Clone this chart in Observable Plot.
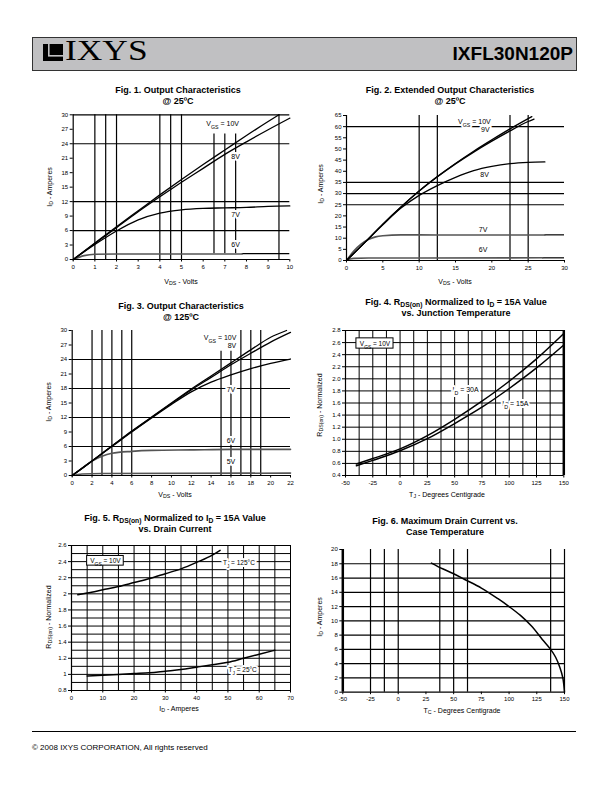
<!DOCTYPE html>
<html><head><meta charset="utf-8">
<script src="https://cdn.jsdelivr.net/npm/d3@7"></script>
<script src="https://cdn.jsdelivr.net/npm/@observablehq/plot@0.6"></script>
<style>
body{margin:0;background:#fff;}
#page{position:relative;width:612px;height:792px;overflow:hidden;font-family:"Liberation Sans",Arial,Helvetica,sans-serif;color:#000;}
.title{position:absolute;font-weight:bold;font-size:9px;text-align:center;line-height:11px;white-space:nowrap;transform:translateX(-50%);}
.xlab{position:absolute;font-size:7px;white-space:nowrap;transform:translate(-50%,-50%);}
.ylab{position:absolute;font-size:7px;white-space:nowrap;transform:translate(-50%,-50%) rotate(-90deg);}
sub{font-size:0.75em;vertical-align:-0.3em;line-height:0;}
svg{position:absolute;}
</style></head>
<body><div id="page"></div>
<script>
// ---------------- DATA ----------------
// Fig. 1  Output characteristics @25C  [VDS, ID]
const fig1_10V = [[0,0],[1,3.4],[2,6.8],[3,10.1],[4,13.4],[5,16.6],[6,19.7],[7,22.7],[8,25.7],[9,28.6],[9.5,30]];
const fig1_8V  = [[0,0],[1,3.3],[2,6.6],[3,9.9],[4,13.0],[5,16.0],[6,18.9],[7,21.8],[8,24.4],[9,26.9],[10,29.3]];
const fig1_7V  = [[0,0],[1,3.1],[2,5.9],[3,8.2],[4,9.6],[5,10.3],[6,10.6],[7,10.7],[8,10.8],[9,11.0],[10,11.1]];
const fig1_6V  = [[0,0],[0.5,0.8],[1,1.1],[2,1.15],[4,1.15],[7.8,1.15]];
const fig1GridX = [1,1.5,2,4,4.5,5,9.5];
const fig1GridXShort = [6.5,7,7.5];
const fig1GridY = [6,12,24,30];
const fig1Segments = [{x1:7.8,x2:10,y:1.2}];
const fig1Labels = [{x:6.9,y:28.1,t:"V_{GS} = 10V"},{x:7.5,y:21.4,t:"8V"},{x:7.5,y:9.2,t:"7V"},{x:7.5,y:3.1,t:"6V"}];

// Fig. 2  Extended output characteristics @25C
const fig2_10V = [[0,0],[2.5,8],[5,16.3],[7.5,24],[10,31.2],[12.5,37.6],[15,43.5],[17.5,49],[20,54.1],[22.5,59],[25,63.6],[25.5,64.5]];
const fig2_9V  = [[0,0],[2.5,8],[5,16.3],[7.5,24],[10,31.1],[12.5,37.5],[15,43.3],[17.5,48.6],[20,53.5],[22.5,58.1],[25,62.3],[25.8,63.4]];
const fig2_8V  = [[0,0],[2.5,8],[5,16],[7.5,23.5],[10,29.2],[12.5,33.6],[15,37.3],[17.5,40.3],[20,42.2],[22.5,43.4],[25,44],[27.3,44.2]];
const fig2_7V  = [[0,0],[1,4.2],[2,7.3],[3,9.4],[4,10.6],[5,11.1],[7.5,11.5],[10,11.5],[15,11.4],[20,11.4],[25,11.4],[27.3,11.4]];
const fig2_6V  = [[0,0],[0.5,0.7],[1,0.95],[3,1.1],[10,1.15],[27,1.2]];
const fig2GridX = [10,12.5,22.5,25];
const fig2GridY = [25,30,35,60];
const fig2Segments = [{x1:27.3,x2:30,y:11.5},{x1:27,x2:30,y:1.2}];
const fig2Labels = [{x:17.6,y:62.3,t:"V_{GS} = 10V"},{x:19.1,y:58.6,t:"9V"},{x:19,y:38.4,t:"8V"},{x:18.8,y:13.6,t:"7V"},{x:18.8,y:4.9,t:"6V"}];

// Fig. 3  Output characteristics @125C
const fig3_10V = [[0,0],[2,3],[4,6.1],[6,9.2],[8,12.1],[10,15],[12,17.9],[14,20.6],[16,23.3],[18,26],[20,28.6],[21.6,30]];
const fig3_8V  = [[0,0],[2,3],[4,6.1],[6,9.1],[8,12],[10,14.9],[12,17.7],[14,20.3],[16,22.9],[18,25.3],[20,27.6],[22,29.6]];
const fig3_7V  = [[0,0],[2,3],[4,6],[6,9],[8,11.9],[10,14.7],[12,17.3],[14,19.3],[16,20.8],[18,22.1],[20,23.2],[22,24.1]];
const fig3_6V  = [[0,0],[1,1.5],[2,3],[3,4],[4,4.6],[6,5],[8,5.2],[12,5.3],[16,5.4],[22,5.4]];
const fig3_5V  = [[0,0],[1,0.3],[3,0.4],[22,0.5]];
const fig3GridX = [2,3,4,5,6,17,18,19];
const fig3GridXShort = [15,16];
const fig3GridY = [6,12,18,24];
const fig3Labels = [{x:14.9,y:28.5,t:"V_{GS} = 10V"},{x:16.1,y:26.8,t:"8V"},{x:16,y:17.7,t:"7V"},{x:16,y:7.2,t:"6V"},{x:16,y:2.75,t:"5V"}];

// Fig. 4  RDS(on) normalized vs junction temperature  [TJ, R]
const fig4_30A = [[-40,0.59],[-25,0.68],[0,0.84],[25,1.06],[50,1.33],[75,1.63],[100,1.96],[125,2.33],[150,2.75]];
const fig4_15A = [[-40,0.56],[-25,0.65],[0,0.81],[25,1.01],[50,1.26],[75,1.53],[100,1.84],[125,2.18],[150,2.56]];
const fig4Labels = [{x:60,y:1.82,t:"I_{D} = 30A"},{x:105.7,y:1.59,t:"I_{D} = 15A"}];
const fig4Box = [{x1:-40,x2:-6,y1:2.5,y2:2.67,cx:-23,cy:2.585,t:"V_{GS} = 10V"}];

// Fig. 5  RDS(on) normalized vs drain current  [ID, R]
const fig5_125C = [[2,1.99],[5,2.01],[10,2.05],[15,2.09],[20,2.14],[25,2.19],[30,2.25],[35,2.31],[40,2.39],[45,2.48],[47.5,2.54]];
const fig5_25C  = [[5,0.98],[10,0.99],[15,1.0],[20,1.01],[25,1.02],[30,1.04],[35,1.06],[40,1.09],[45,1.12],[50,1.15],[55,1.2],[60,1.25],[65,1.3]];
const fig5Labels = [{x:53.5,y:2.38,t:"T_{J} = 125°C"},{x:54.7,y:1.05,t:"T_{J} = 25°C"}];
const fig5Box = [{x1:5,x2:16.7,y1:2.35,y2:2.47,cx:10.85,cy:2.41,t:"V_{GS} = 10V"}];

// Fig. 6  Maximum drain current vs case temperature  [TC, ID]
const fig6_curve = [[30,18.1],[40,17.3],[50,16.6],[60,15.8],[75,14.6],[90,13.1],[100,12.0],[110,10.8],[120,9.3],[130,7.4],[137.5,6.0],[142,4.9],[146,3.4],[148.5,2.0],[150,0]];
const fig6GridX = [-25,-12.5,0,37.5,50,62.5,137.5,150];
const fig6GridY = [2,4,6,8,10,12,14,16,18];

// ---------------- DRAWING ----------------
const page = document.getElementById("page");
const FONT = "'Liberation Sans', Arial, Helvetica, sans-serif";
const SVGNS = "http://www.w3.org/2000/svg";

function subs(root){
  const w = document.createTreeWalker(root, NodeFilter.SHOW_TEXT);
  const nodes = [];
  while (w.nextNode()) if (w.currentNode.nodeValue.includes("_{")) nodes.push(w.currentNode);
  for (const n of nodes){
    const frag = document.createDocumentFragment();
    for (const p of n.nodeValue.split(/(_\{[^}]*\})/)){
      if (!p) continue;
      if (p.startsWith("_{")){
        const t = document.createElementNS(SVGNS, "tspan");
        t.setAttribute("baseline-shift", "sub");
        t.style.fontSize = "75%";
        t.textContent = p.slice(2, -1);
        frag.append(t);
      } else frag.append(document.createTextNode(p));
    }
    n.replaceWith(frag);
  }
}

const plain = d => String(d);
const xy = {x: d => d[0], y: d => d[1]};
const curve = (data, opts = {}) => Plot.line(data, {...xy, curve: "monotone-x", stroke: "#000", strokeWidth: 1.3, ...opts});
const gray = (data) => curve(data, {stroke: "#555", strokeWidth: 1.6});
const labels = (data, size = 7) => Plot.text(data, {x: "x", y: "y", text: "t", fontSize: size, fill: "#000", stroke: "#fff", strokeWidth: 4});

function plotAt(cfg){
  const {box, area} = cfg;
  const svg = Plot.plot({
    width: box.w, height: box.h,
    marginLeft: area.x0 - box.x, marginRight: box.x + box.w - area.x1,
    marginTop: area.y0 - box.y, marginBottom: box.y + box.h - area.y1,
    x: {domain: cfg.xDomain}, y: {domain: cfg.yDomain},
    style: {fontFamily: FONT, fontSize: "6px", background: "none", overflow: "visible", color: "#000"},
    marks: [
      ...cfg.marks,
      Plot.ruleX([cfg.xDomain[0]], {stroke: "#000", strokeWidth: cfg.leftWidth || 1.2}),
      Plot.ruleY([cfg.yDomain[0]], {stroke: "#000", strokeWidth: 1.2}),
      Plot.axisX(cfg.xTicks, {tickSize: 2.5, tickPadding: 2.5, label: null, tickFormat: cfg.xFormat || plain}),
      Plot.axisY(cfg.yTicks, {tickSize: 3, tickPadding: 2, label: null, tickFormat: cfg.yFormat || plain})
    ]
  });
  svg.style.left = box.x + "px";
  svg.style.top = box.y + "px";
  subs(svg);
  page.append(svg);
  const t = document.createElement("div");
  t.className = "title"; t.style.left = cfg.title.x + "px"; t.style.top = cfg.title.y + "px";
  t.innerHTML = cfg.title.html; page.append(t);
  const xl = document.createElement("div");
  xl.className = "xlab"; xl.style.left = cfg.xLabel.x + "px"; xl.style.top = cfg.xLabel.y + "px";
  xl.innerHTML = cfg.xLabel.html; page.append(xl);
  const yl = document.createElement("div");
  yl.className = "ylab"; yl.style.left = cfg.yLabel.x + "px"; yl.style.top = cfg.yLabel.y + "px";
  yl.innerHTML = cfg.yLabel.html; page.append(yl);
}

const G = {stroke: "#000", strokeWidth: 1.2};
const g1 = {stroke: "#000", strokeWidth: 1};

// Fig 1
plotAt({
  box: {x: 40, y: 105, w: 260, h: 175}, area: {x0: 72.7, x1: 289.3, y0: 114.3, y1: 259},
  xDomain: [0, 10], yDomain: [0, 30],
  xTicks: d3.range(0, 11, 1), yTicks: d3.range(0, 31, 3),
  marks: [
    Plot.ruleX(fig1GridX, G), Plot.ruleX(fig1GridXShort, {...G, y1: 1.2, y2: 26}), Plot.ruleY(fig1GridY, G),
    Plot.ruleY(fig1Segments, {x1: "x1", x2: "x2", y: "y", ...G}),
    gray(fig1_6V), curve(fig1_7V), curve(fig1_8V), curve(fig1_10V),
    labels(fig1Labels)
  ],
  title: {x: 178, y: 85, html: "Fig. 1. Output Characteristics<br>@ 25ºC"},
  xLabel: {x: 181, y: 281, html: "V<sub>DS</sub> - Volts"},
  yLabel: {x: 49, y: 187, html: "I<sub>D</sub> - Amperes"}
});

// Fig 2
plotAt({
  box: {x: 310, y: 105, w: 270, h: 175}, area: {x0: 346, x1: 564, y0: 115, y1: 260},
  xDomain: [0, 30], yDomain: [0, 65],
  xTicks: d3.range(0, 31, 5), yTicks: d3.range(0, 66, 5),
  marks: [
    Plot.ruleX(fig2GridX, G), Plot.ruleY(fig2GridY, G),
    Plot.ruleY(fig2Segments, {x1: "x1", x2: "x2", y: "y", ...G}),
    gray(fig2_6V), gray(fig2_7V), curve(fig2_8V), curve(fig2_9V), curve(fig2_10V),
    labels(fig2Labels)
  ],
  title: {x: 450, y: 85, html: "Fig. 2. Extended Output Characteristics<br>@ 25ºC"},
  xLabel: {x: 455, y: 281, html: "V<sub>DS</sub> - Volts"},
  yLabel: {x: 320, y: 184, html: "I<sub>D</sub> - Amperes"}
});

// Fig 3
plotAt({
  box: {x: 40, y: 320, w: 260, h: 175}, area: {x0: 71.7, x1: 290, y0: 330, y1: 475},
  xDomain: [0, 22], yDomain: [0, 30],
  xTicks: d3.range(0, 23, 2), yTicks: d3.range(0, 31, 3),
  marks: [
    Plot.ruleX(fig3GridX, G), Plot.ruleX(fig3GridXShort, {...G, y1: 0, y2: 25.7}), Plot.ruleY(fig3GridY, G),
    gray(fig3_5V), gray(fig3_6V), curve(fig3_7V), curve(fig3_8V), curve(fig3_10V),
    labels(fig3Labels)
  ],
  title: {x: 181, y: 301, html: "Fig. 3. Output Characteristics<br>@ 125ºC"},
  xLabel: {x: 175, y: 494, html: "V<sub>DS</sub> - Volts"},
  yLabel: {x: 48, y: 402, html: "I<sub>D</sub> - Amperes"}
});

// Fig 4
plotAt({
  box: {x: 310, y: 320, w: 270, h: 175}, area: {x0: 345, x1: 563.3, y0: 330, y1: 475},
  xDomain: [-50, 150], yDomain: [0.4, 2.8],
  xTicks: d3.range(-50, 151, 25), yTicks: d3.range(4, 29, 2).map(v => v / 10), yFormat: d3.format(".1f"),
  marks: [
    Plot.ruleX(d3.range(-37.5, 150, 12.5), g1), Plot.ruleY(d3.range(6, 29, 2).map(v => v / 10), g1),
    Plot.ruleX([150], {stroke: "#000", strokeWidth: 2.5}),
    curve(fig4_15A, {strokeWidth: 1.5}), curve(fig4_30A, {strokeWidth: 1.5}),
    labels(fig4Labels),
    Plot.rect(fig4Box, {x1: "x1", x2: "x2", y1: "y1", y2: "y2", fill: "#fff", stroke: "#000", strokeWidth: 1}),
    Plot.text(fig4Box, {x: "cx", y: "cy", text: "t", fontSize: 6.5, fill: "#000"})
  ],
  title: {x: 456, y: 297, html: "Fig. 4. R<sub>DS(on)</sub> Normalized to I<sub>D</sub> = 15A Value<br>vs. Junction Temperature"},
  xLabel: {x: 447, y: 494, html: "T<sub>J</sub> - Degrees Centigrade"},
  yLabel: {x: 319, y: 405, html: "R<sub>DS(on)</sub> - Normalized"}
});

// Fig 5
plotAt({
  box: {x: 40, y: 535, w: 260, h: 175}, area: {x0: 71, x1: 290, y0: 545, y1: 690},
  xDomain: [0, 70], yDomain: [0.8, 2.6],
  xTicks: d3.range(0, 71, 10), yTicks: d3.range(8, 27, 2).map(v => v / 10),
  marks: [
    Plot.ruleX(d3.range(5, 71, 5), g1), Plot.ruleY(d3.range(9, 27, 1).map(v => v / 10), g1),
    curve(fig5_125C, {strokeWidth: 1.5}), curve(fig5_25C, {strokeWidth: 1.5}),
    labels(fig5Labels, 6.5),
    Plot.rect(fig5Box, {x1: "x1", x2: "x2", y1: "y1", y2: "y2", fill: "#fff", stroke: "#000", strokeWidth: 1}),
    Plot.text(fig5Box, {x: "cx", y: "cy", text: "t", fontSize: 6.5, fill: "#000"})
  ],
  title: {x: 175, y: 513, html: "Fig. 5. R<sub>DS(on)</sub> Normalized to I<sub>D</sub> = 15A Value<br>vs. Drain Current"},
  xLabel: {x: 179, y: 708, html: "I<sub>D</sub> - Amperes"},
  yLabel: {x: 48, y: 617, html: "R<sub>DS(on)</sub> - Normalized"}
});

// Fig 6
plotAt({
  box: {x: 310, y: 539, w: 270, h: 175}, area: {x0: 342.3, x1: 564, y0: 549, y1: 691.7},
  xDomain: [-50, 150], yDomain: [0, 20],
  xTicks: d3.range(-50, 151, 25), yTicks: d3.range(0, 21, 2),
  leftWidth: 2.5,
  marks: [
    Plot.ruleX(fig6GridX, G), Plot.ruleY(fig6GridY, G),
    curve(fig6_curve, {strokeWidth: 1.5, curve: "catmull-rom"})
  ],
  title: {x: 445, y: 516, html: "Fig. 6. Maximum Drain Current vs.<br>Case Temperature"},
  xLabel: {x: 462, y: 710, html: "T<sub>C</sub> - Degrees Centigrade"},
  yLabel: {x: 319, y: 617, html: "I<sub>D</sub> - Amperes"}
});

// ---------------- HEADER & FOOTER ----------------
const header = document.createElement("div");
header.innerHTML = `
<div style="position:absolute;left:32px;top:37px;width:543px;height:32px;background:#c0c0c2;border:1.3px solid #333;"></div>
<svg width="22" height="18" style="left:43px;top:44px;">
  <rect x="0" y="0" width="20" height="17" fill="#000"/>
  <rect x="5" y="0" width="1.6" height="12" fill="#c0c0c2"/>
  <rect x="5" y="11" width="15" height="1.6" fill="#c0c0c2"/>
</svg>
<div style="position:absolute;left:65px;top:36px;font-family:'Liberation Serif','Times New Roman',serif;font-size:29px;line-height:29px;transform:scaleX(1.22);transform-origin:left top;">IXYS</div>
<div style="position:absolute;right:39px;top:44px;font-family:'Liberation Sans',Arial,sans-serif;font-weight:bold;font-size:19px;line-height:19px;">IXFL30N120P</div>
<div style="position:absolute;left:32px;top:731px;width:544px;height:0;border-top:1.2px solid #000;"></div>
<div style="position:absolute;left:32px;top:743px;font-size:8px;line-height:9px;white-space:nowrap;">© 2008 IXYS CORPORATION, All rights reserved</div>
`;
page.append(header);
</script>
</body></html>
